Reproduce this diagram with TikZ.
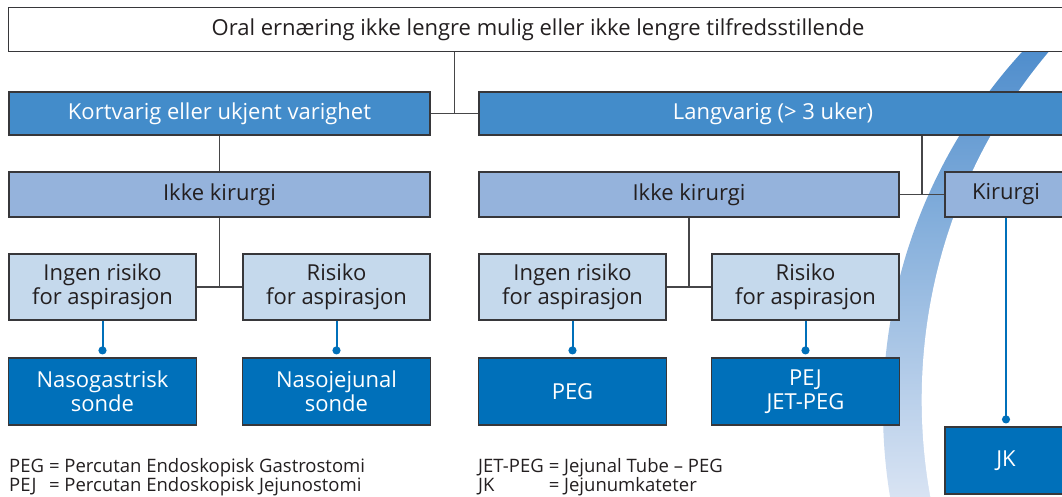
\documentclass[tikz,border=0pt]{standalone}
\usepackage{fontspec}
\setmainfont{Open Sans}
\usetikzlibrary{arrows.meta}
\definecolor{midblue}{RGB}{67,140,202}
\definecolor{lightblue}{RGB}{149,179,220}
\definecolor{paleblue}{RGB}{197,217,236}
\definecolor{darkblue}{RGB}{0,112,186}
\definecolor{boxline}{RGB}{55,55,58}
\definecolor{linkgray}{RGB}{70,70,72}
\definecolor{txt}{RGB}{35,31,32}
\newcommand\mainsize{\fontsize{22}{24}\selectfont}
\newcommand\legsize{\fontsize{18.5}{17}\selectfont}
\begin{document}
\begin{tikzpicture}[x=1pt,y=-1pt,
    box/.style={draw=boxline,line width=1.2pt,inner sep=0pt,align=center,font=\mainsize,text=txt},
    lvlone/.style={box,fill=white,minimum height=44pt},
    lvltwo/.style={box,fill=midblue,text=white,minimum height=43pt},
    lvlthree/.style={box,fill=lightblue,minimum height=45pt},
    lvlfour/.style={box,fill=paleblue,minimum height=66pt,minimum width=187pt},
    lvlfive/.style={box,fill=darkblue,text=white,minimum height=67pt,minimum width=188pt},
    link/.style={draw=linkgray,line width=1.3pt},
    bluelink/.style={draw=darkblue,line width=2pt,-{Circle[length=8pt,width=8pt]},shorten >=3pt},
    legend/.style={anchor=base west,inner sep=0pt,font=\legsize,text=txt}]
    \useasboundingbox[fill=white] (0,0) rectangle (1062,496);

    % background band
    \begin{scope}
      \clip (0,0) rectangle (1062,496);
      \clip (1413.5,410) circle (530.5pt);
      \shade[top color={rgb,255:red,64;green,132;blue,200},
             middle color={rgb,255:red,128;green,166;blue,216},
             bottom color={rgb,255:red,216;green,227;blue,243}] (800,0) rectangle (1062,496);
      \fill[white] (1462,400) circle (540.3pt);
    \end{scope}

    \node[lvlone,minimum width=1059pt] (top) at (538,29.5) {Oral ernæring ikke lengre mulig eller ikke lengre tilfredsstillende};

    \node[lvltwo,minimum width=421pt] (kort) at (219.5,113.5) {Kortvarig eller ukjent varighet};
    \node[lvltwo,minimum width=588pt] (lang) at (773,113.5) {Langvarig (> 3 uker)};

    \node[lvlthree,minimum width=421pt] (ikkeL) at (219.5,194.5) {Ikke kirurgi};
    \node[lvlthree,minimum width=420pt] (ikkeR) at (689,194.5) {Ikke kirurgi};
    \node[lvlthree,minimum width=122pt] (kir) at (1006,194.5) {Kirurgi};

    \node[lvlfour] (ingL) at (102.5,287) {Ingen risiko\\for aspirasjon};
    \node[lvlfour] (risL) at (336.5,287) {Risiko\\for aspirasjon};
    \node[lvlfour] (ingR) at (572.5,287) {Ingen risiko\\for aspirasjon};
    \node[lvlfour] (risR) at (805.5,287) {Risiko\\for aspirasjon};

    \node[lvlfive] (nasoG) at (102.5,391.5) {Nasogastrisk\\sonde};
    \node[lvlfive] (nasoJ) at (336.5,391.5) {Nasojejunal\\sonde};
    \node[lvlfive] (peg) at (572.5,391.5) {PEG};
    \node[lvlfive] (pej) at (805.5,391.5) {PEJ\\JET-PEG};
    \node[lvlfive,minimum width=122pt] (jk) at (1006,460.5) {JK};

    % tree lines
    \draw[link] (kort.east) -- (lang.west) coordinate[midway] (J1);
    \draw[link] (J1) -- (J1 |- top.south);
    \draw[link] (kort) -- (ikkeL);
    \draw[link] (ikkeR.east) -- (kir.west) coordinate[midway] (J2);
    \draw[link] (J2) -- (J2 |- lang.south);
    \draw[link] (ingL.east) -- (risL.west) coordinate[midway] (J3);
    \draw[link] (J3) -- (J3 |- ikkeL.south);
    \draw[link] (ingR.east) -- (risR.west) coordinate[midway] (J4);
    \draw[link] (J4) -- (J4 |- ikkeR.south);

    \draw[bluelink] (ingL.south) -- (nasoG.north);
    \draw[bluelink] (risL.south) -- (nasoJ.north);
    \draw[bluelink] (ingR.south) -- (peg.north);
    \draw[bluelink] (risR.south) -- (pej.north);
    \draw[bluelink] (kir.south) -- (jk.north);

    \node[legend] (legL) at (9,472) {\begin{tabular}[t]{@{}l@{\hspace{5pt}}l@{}}
      PEG & = Percutan Endoskopisk Gastrostomi\\
      PEJ & = Percutan Endoskopisk Jejunostomi
    \end{tabular}};
    \node[legend] (legR) at (478,472) {\begin{tabular}[t]{@{}l@{\hspace{5pt}}l@{}}
      JET-PEG & = Jejunal Tube -- PEG\\
      JK & = Jejunumkateter
    \end{tabular}};
  \end{tikzpicture}
\end{document}
